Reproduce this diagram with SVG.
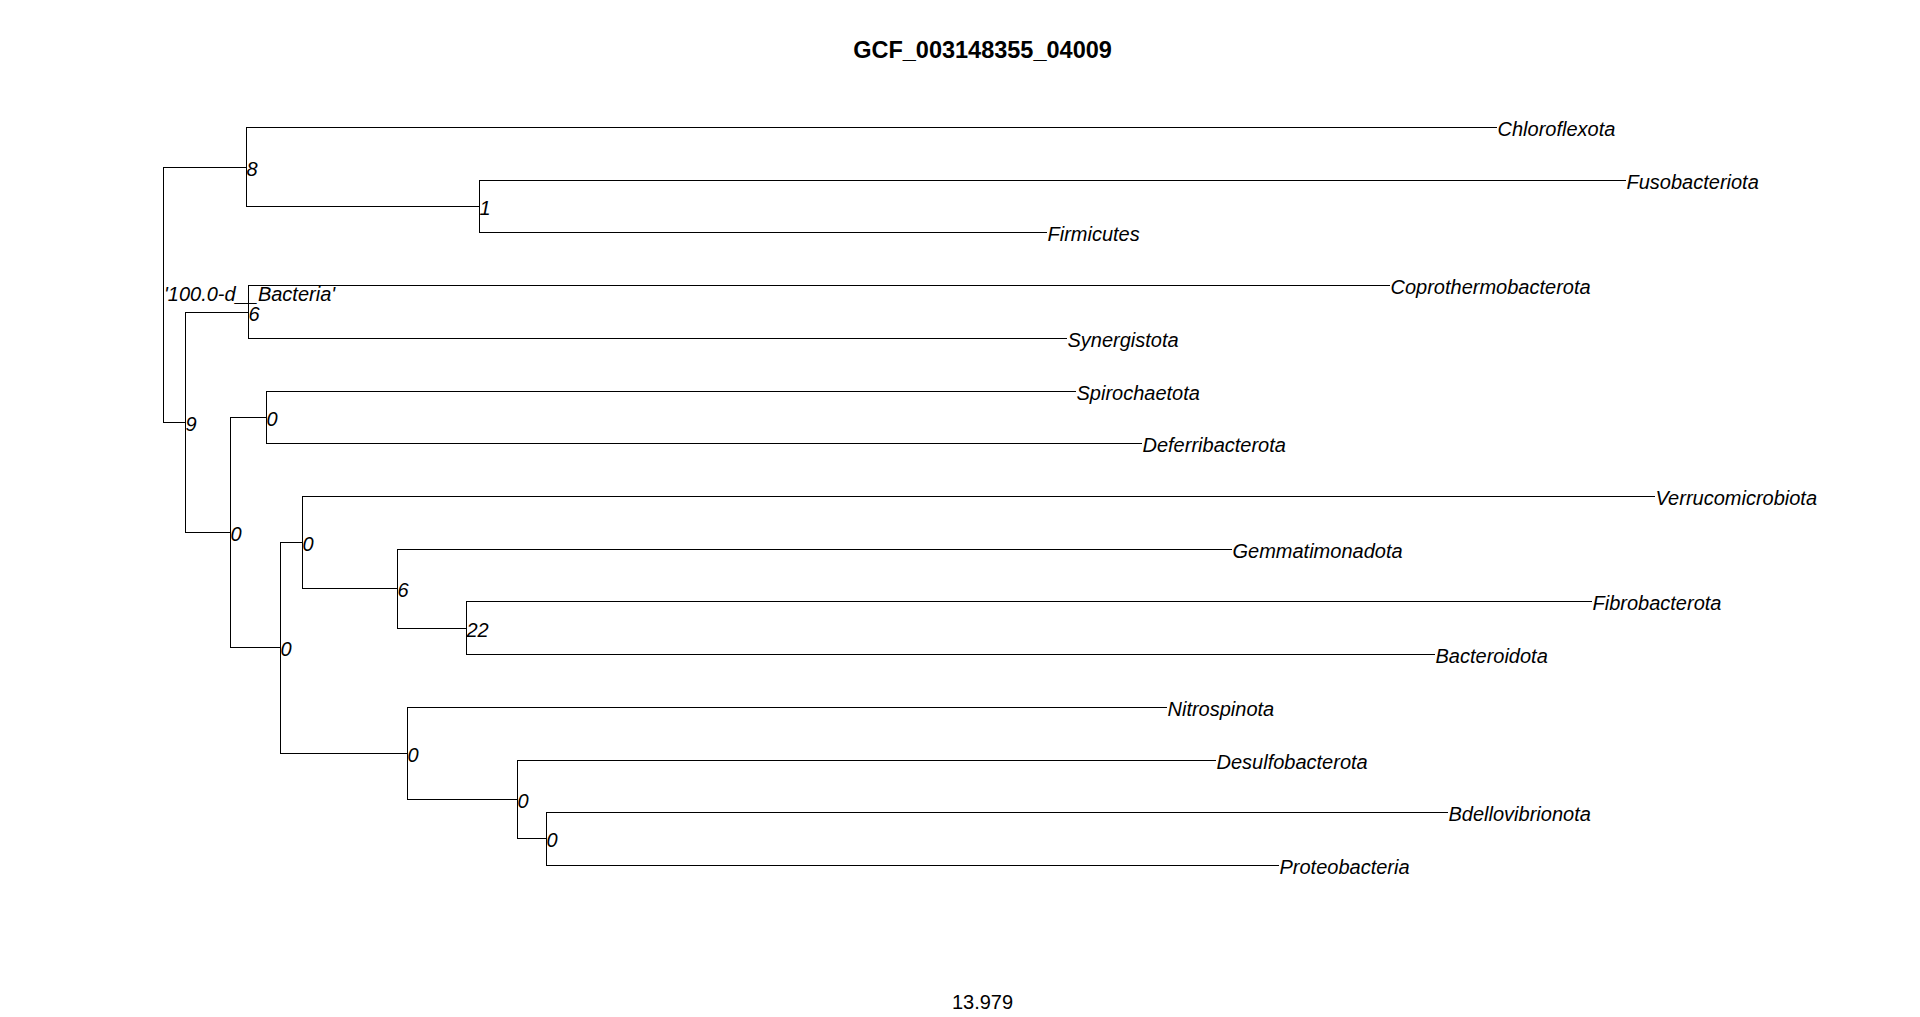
<svg xmlns="http://www.w3.org/2000/svg" width="1920" height="1017" viewBox="0 0 1920 1017">
<style>
.e{fill:none;stroke:#000;stroke-width:1}
.t{font-family:"Liberation Sans",Arial,sans-serif;font-style:italic;font-size:20px;fill:#000}
.n{font-family:"Liberation Sans",Arial,sans-serif;font-style:italic;font-size:20px;fill:#000}
.title{font-family:"Liberation Sans",Arial,sans-serif;font-weight:bold;font-size:23.5px;fill:#000}
.s{font-family:"Liberation Sans",Arial,sans-serif;font-size:20px;fill:#000}
</style>
<rect width="1920" height="1017" fill="#fff"/>
<text class="title" x="982.5" y="58" text-anchor="middle">GCF_003148355_04009</text>
<g id="connectors">
<path class="e" d="M163.5,167.5V422.5"/>
<path class="e" d="M163,167.5H246.5M246.5,127.5V206.5M246,127.5H1497M246,206.5H479.5M479.5,180.5V232.5M479,180.5H1626M479,232.5H1047"/>
<path class="e" d="M163,422.5H185.5M185.5,312.5V532.5M185,312.5H248.5M248.5,285.5V338.5M248,285.5H1390M248,338.5H1067"/>
<path class="e" d="M185,532.5H230.5M230.5,417.5V647.5M230,417.5H266.5M266.5,391.5V443.5M266,391.5H1076M266,443.5H1142"/>
<path class="e" d="M230,647.5H280.5M280.5,542.5V753.5M280,542.5H302.5M302.5,496.5V588.5M302,496.5H1655M302,588.5H397.5M397.5,549.5V628.5M397,549.5H1232M397,628.5H466.5M466.5,601.5V654.5M466,601.5H1592M466,654.5H1435"/>
<path class="e" d="M280,753.5H407.5M407.5,707.5V799.5M407,707.5H1167M407,799.5H517.5M517.5,760.5V838.5M517,760.5H1216M517,838.5H546.5M546.5,812.5V865.5M546,812.5H1448M546,865.5H1279"/>
</g>
<g id="tips">
<g id="tip-Chloroflexota"><text class="t" x="1497.5" y="135.5">Chloroflexota</text></g>
<g id="tip-Fusobacteriota"><text class="t" x="1626.5" y="188.5">Fusobacteriota</text></g>
<g id="tip-Firmicutes"><text class="t" x="1047.5" y="241">Firmicutes</text></g>
<g id="tip-Coprothermobacterota"><text class="t" x="1390.5" y="293.5">Coprothermobacterota</text></g>
<g id="tip-Synergistota"><text class="t" x="1067.5" y="346.5">Synergistota</text></g>
<g id="tip-Spirochaetota"><text class="t" x="1076.5" y="399.5">Spirochaetota</text></g>
<g id="tip-Deferribacterota"><text class="t" x="1142.5" y="451.5">Deferribacterota</text></g>
<g id="tip-Verrucomicrobiota"><text class="t" x="1655.5" y="504.5">Verrucomicrobiota</text></g>
<g id="tip-Gemmatimonadota"><text class="t" x="1232.5" y="557.5">Gemmatimonadota</text></g>
<g id="tip-Fibrobacterota"><text class="t" x="1592.5" y="609.5">Fibrobacterota</text></g>
<g id="tip-Bacteroidota"><text class="t" x="1435.5" y="662.5">Bacteroidota</text></g>
<g id="tip-Nitrospinota"><text class="t" x="1167.5" y="715.5">Nitrospinota</text></g>
<g id="tip-Desulfobacterota"><text class="t" x="1216.5" y="768.5">Desulfobacterota</text></g>
<g id="tip-Bdellovibrionota"><text class="t" x="1448.5" y="820.5">Bdellovibrionota</text></g>
<g id="tip-Proteobacteria"><text class="t" x="1279.5" y="873.5">Proteobacteria</text></g>
</g>
<g id="internal">
<g id="node-root"><text class="n" x="164" y="301">'100.0-d__Bacteria'</text></g>
<g id="node-A"><text class="n" x="246.5" y="176">8</text></g>
<g id="node-1"><text class="n" x="479.5" y="215">1</text></g>
<g id="node-B"><text class="n" x="248.5" y="320.5">6</text></g>
<g id="node-L"><text class="n" x="185.5" y="431">9</text></g>
<g id="node-C"><text class="n" x="266.5" y="426">0</text></g>
<g id="node-K"><text class="n" x="230.5" y="541">0</text></g>
<g id="node-F"><text class="n" x="302.5" y="551">0</text></g>
<g id="node-E"><text class="n" x="397.5" y="597">6</text></g>
<g id="node-D"><text class="n" x="466.5" y="637">22</text></g>
<g id="node-J"><text class="n" x="280.5" y="656">0</text></g>
<g id="node-I"><text class="n" x="407.5" y="762">0</text></g>
<g id="node-H"><text class="n" x="517.5" y="808">0</text></g>
<g id="node-G"><text class="n" x="546.5" y="847">0</text></g>
</g>
<text class="s" x="982.5" y="1009" text-anchor="middle">13.979</text>
</svg>
